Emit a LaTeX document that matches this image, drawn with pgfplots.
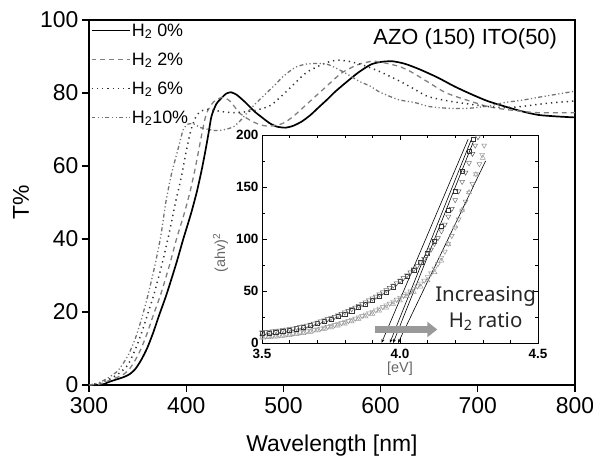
\documentclass[border=0pt]{standalone}
\usepackage{fontspec}
\setmainfont{Liberation Sans}
\newfontfamily\noto{Noto Sans}
\usepackage{pgfplots}
\pgfplotsset{compat=1.18}
\usetikzlibrary{arrows.meta}

\begin{document}
\begin{tikzpicture}
\path[use as bounding box] (-89bp,-71bp) rectangle (504bp,385bp);
\begin{axis}[name=main, at={(0,0)}, anchor=south west, scale only axis,
  width=486bp, height=365bp,
  xmin=300, xmax=800, ymin=0, ymax=100,
  xtick={300,400,...,800}, ytick={0,20,...,100},
  tick align=outside, xtick pos=bottom, ytick pos=left,
  major tick length=7bp,
  axis line style={line width=1.5pt},
  tick style={line width=1.1pt, black},
  ticklabel style={font=\fontsize{23}{27}\selectfont},
  xticklabel style={yshift=-2bp},
  /pgf/number format/assume math mode=true,
  xlabel={Wavelength [nm]}, ylabel={T\%},
  label style={font=\fontsize{23}{27}\selectfont},
  xlabel style={at={(axis description cs:0.5,-0.167)}, anchor=center},
  ylabel style={at={(axis description cs:-0.14,0.5)}, anchor=center},
  legend style={at={(axis description cs:0.003,0.995)}, anchor=north west,
    draw=none, fill=none, font=\fontsize{18}{20}\selectfont,
    row sep=12bp, inner sep=0pt, nodes={inner sep=1.5bp}},
  legend cell align=left,
  legend image code/.code={\draw[#1] (0bp,0bp) -- (38bp,0bp);},
]
\addplot[black, line width=1.7pt, smooth, tension=0.4] coordinates {
(300,0) (310,0) (316,0.3) (320,0.8) (328,1.5) (336,2.2) (342,3) (348,4.5) (354,7) (360,10.2)
(366,14.3) (372,19) (380,25) (390,33.5) (397,40) (405,47) (411,53) (416,59) (420,64.5)
(423,69) (426,73.6) (431,77) (437,78.8) (441,79.8) (446,80.2) (452,79.5) (461,77.4)
(470,75) (478,73.3) (486,71.7) (493,70.8) (502,70.5) (510,71) (519,72.2) (528,74)
(536,76) (545,78.2) (553,80.3) (564,82.8) (577,85.6) (590,87.8) (600,88.5) (612,88.7)
(625,88) (640,86.5) (659,84.2) (676,81.8) (693,79.7) (710,77.8) (728,76.3) (745,75)
(762,74) (780,73.6) (800,73.3)};
\addlegendentry{H\textsubscript{2} 0\%}
\addplot[black!50, line width=1.3pt, dash pattern=on 5pt off 4pt, smooth, tension=0.4] coordinates {
(300,0) (310,0.2) (316,0.7) (322,1.4) (330,2.2) (336,3) (342,4.5) (348,7) (354,10.2)
(360,14.3) (366,19) (374,25) (383,33) (390,40) (398,47) (404,53) (409,59) (413,64.5) (417,70)
(421,74.5) (428,77.5) (437,78.8) (445,77.8) (455,74.5) (466,72.5) (476,71.3) (485,70.9)
(495,71.3) (502,72) (512,74) (526,77.4) (543,81.5) (560,85.5) (577,87.8) (592,88.7)
(605,88.2) (620,87.2) (632,85.7) (650,82.8) (666,80.2) (680,78.8) (693,77.7) (710,76.3)
(728,75.5) (745,75) (762,74.6) (800,74.6)};
\addlegendentry{H\textsubscript{2} 2\%}
\addplot[black!80, line width=1.5pt, dash pattern=on 1.3pt off 4pt, smooth, tension=0.4] coordinates {
(300,0) (310,0.5) (320,1.5) (330,3) (340,5.5) (348,10) (355,15) (361,20) (367,25)
(375,33) (382,41) (389,50) (395,57) (400,64) (405,70) (410,73.5) (415,75) (422,75.5)
(430,75.2) (440,74.8) (450,74.6) (460,74.8) (470,75.2) (478,75.7) (488,76.8) (503,80.4)
(518,84.3) (526,86) (543,88.2) (555,89) (567,88.7) (580,87.8) (598,86) (620,83.2)
(635,81) (649,79) (670,77.8) (690,77) (710,76.3) (728,76) (745,76.3) (762,76.9)
(780,77.4) (800,77.8)};
\addlegendentry{H\textsubscript{2} 6\%}
\addplot[black!55, line width=1.3pt, dash pattern=on 4pt off 2.5pt on 1.2pt off 2.5pt on 1.2pt off 2.5pt, smooth, tension=0.4] coordinates {
(300,0) (310,0.6) (320,2) (330,4) (340,8) (348,13) (355,19) (361,25) (368,33) (374,41)
(379,50) (385,58) (391,64) (397,70) (402,71.5) (408,71.5) (415,70.5) (430,69.7)
(440,70) (449,70.8) (457,72.8) (464,75) (471,77) (478,78.8) (485,80.6) (492,82.4)
(500,84.6) (512,87) (523,87.9) (535,88.1) (546,87.8) (558,86.3) (568,84.8) (578,83.2)
(590,81.8) (598,80.4) (618,78.2) (635,77.4) (650,76.3) (670,75.8) (690,75.8) (710,76.4)
(728,77.4) (745,78) (762,78.8) (780,79.6) (800,80.5)};
\addlegendentry{H\textsubscript{2}10\%}
\node[font=\fontsize{22}{26}\selectfont] at (axis description cs:0.774,0.948) {AZO (150) ITO(50)};
\end{axis}

\begin{axis}[at={(173bp,42bp)}, anchor=south west, scale only axis,
  width=276bp, height=208bp,
  xmin=3.5, xmax=4.5, ymin=0, ymax=200,
  xtick={3.5,4.0,4.5}, ytick={0,50,100,150,200},
  minor x tick num=4, minor y tick num=1,
  tick align=inside, major tick length=5bp, minor tick length=3bp,
  axis background/.style={fill=white},
  axis line style={line width=0.8pt},
  tick style={line width=0.6pt, black},
  ticklabel style={font=\fontsize{13.5}{15}\selectfont\bfseries},
  xticklabel style={yshift=-3bp, /pgf/number format/.cd, fixed, fixed zerofill, precision=1},
  /pgf/number format/assume math mode=true,
  xlabel={\relax [eV]}, ylabel={(ahv)\textsuperscript{2}},
  label style={font=\fontsize{14.5}{16}\selectfont, text=black!60},
  xlabel style={at={(axis description cs:0.5,-0.125)}, anchor=center},
  ylabel style={at={(axis description cs:-0.15,0.433)}, anchor=center},
]
% lower band
\addplot[only marks, mark=triangle, mark size=2.8pt, black!40, mark options={line width=0.5pt}] coordinates {
(3.500,5.0) (3.525,5.5) (3.550,6.0) (3.575,6.7) (3.600,7.5) (3.625,8.5) (3.650,9.5)
(3.675,10.7) (3.700,12.0) (3.725,13.5) (3.750,15.0) (3.775,16.7) (3.800,18.5) (3.825,20.7)
(3.850,23.0) (3.875,25.5) (3.900,28.0) (3.925,31.0) (3.950,34.0) (3.975,37.5) (4.000,41.0)
(4.025,45.0) (4.050,49.0) (4.075,54.0) (4.100,60.0) (4.125,68) (4.150,79) (4.175,95)
(4.200,112) (4.225,128) (4.250,145) (4.275,162) (4.300,178)};
\addplot[only marks, mark=triangle, mark size=2.8pt, black!45, mark options={rotate=180, line width=0.5pt}] coordinates {
(3.5125,6.5) (3.5375,7.0) (3.5625,7.6) (3.5875,8.4) (3.6125,9.2) (3.6375,10.2)
(3.6625,11.3) (3.6875,12.6) (3.7125,14.0) (3.7375,15.6) (3.7625,17.3) (3.7875,19.2)
(3.8125,21.2) (3.8375,23.5) (3.8625,26.0) (3.8875,28.7) (3.9125,31.5) (3.9375,34.7)
(3.9625,38.0) (3.9875,41.7) (4.0125,45.5) (4.0375,49.7) (4.0625,54.5) (4.0875,60)
(4.1125,67) (4.1375,76) (4.1625,88) (4.1875,103) (4.2125,119) (4.2375,136) (4.2625,153)
(4.2875,172) (4.3050,190)};
\addplot[only marks, mark=triangle, mark size=2.8pt, black!35, mark options={rotate=180, line width=0.5pt}] coordinates {
(3.500,6.2) (3.525,6.75) (3.550,7.3) (3.575,8.0) (3.600,8.8) (3.625,9.7) (3.650,10.75)
(3.675,11.95) (3.700,13.3) (3.725,14.8) (3.750,16.45) (3.775,18.25) (3.800,20.2)
(3.825,22.35) (3.850,24.75) (3.875,27.35) (3.900,30.1) (3.925,33.1) (3.950,36.35)
(3.975,39.85) (4.000,43.6) (4.025,47.6) (4.050,52.1) (4.075,57.25) (4.100,63.5)
(4.125,71.5) (4.150,82) (4.175,95.5) (4.200,111) (4.225,127.5) (4.250,144.5)
(4.275,162.5) (4.2975,181)};
% upper band
\addplot[only marks, mark=square, mark size=2.1pt, black!80, mark options={line width=0.5pt}] coordinates {
(3.500,9.0) (3.525,9.7) (3.550,10.5) (3.575,11.5) (3.600,12.5) (3.625,13.7) (3.650,15.0)
(3.675,17.0) (3.700,19.0) (3.725,21.0) (3.750,23.0) (3.775,25.5) (3.800,28.0) (3.825,31.0)
(3.850,34.0) (3.875,37.5) (3.900,41.0) (3.925,45.0) (3.950,49.0) (3.975,54.0) (4.000,59.0)
(4.025,64.5) (4.050,70.0) (4.075,77.5) (4.100,86.0) (4.125,98) (4.150,112) (4.175,128)
(4.200,146) (4.225,165) (4.250,184) (4.265,196)};
\addplot[only marks, mark=triangle, mark size=2.8pt, black!65, mark options={rotate=180, line width=0.5pt}] coordinates {
(3.5125,10.5) (3.5375,11.2) (3.5625,12.0) (3.5875,13.0) (3.6125,14.0) (3.6375,15.3)
(3.6625,16.8) (3.6875,18.7) (3.7125,20.8) (3.7375,23.0) (3.7625,25.3) (3.7875,28.0)
(3.8125,31.0) (3.8375,34.2) (3.8625,37.5) (3.8875,41.0) (3.9125,44.8) (3.9375,48.8)
(3.9625,53.0) (3.9875,57.5) (4.0125,62.5) (4.0375,68.0) (4.0625,74.0) (4.0875,81.0)
(4.1125,90.0) (4.1375,101) (4.1625,114) (4.1875,129) (4.2125,146) (4.2375,164)
(4.2625,182) (4.2825,198)};
\addplot[only marks, mark=triangle, mark size=2.8pt, black!55, mark options={rotate=180, line width=0.5pt}] coordinates {
(3.500,10.2) (3.525,10.85) (3.550,11.6) (3.575,12.5) (3.600,13.5) (3.625,14.6) (3.650,16.0)
(3.675,17.7) (3.700,19.7) (3.725,21.9) (3.750,24.1) (3.775,26.6) (3.800,29.5) (3.825,32.6)
(3.850,35.8) (3.875,39.2) (3.900,42.9) (3.925,46.8) (3.950,50.9) (3.975,55.2) (4.000,60.0)
(4.025,65.2) (4.050,71.0) (4.075,77.5) (4.100,85.5) (4.125,95.5) (4.150,107.5) (4.175,121.5)
(4.200,137.5) (4.225,155) (4.250,173) (4.2725,190)};
\addplot[black, line width=0.6pt, -{Stealth[length=4bp,width=3bp]}] coordinates {(4.247,196) (3.933,0)};
\addplot[black, line width=0.6pt, -{Stealth[length=4bp,width=3bp]}] coordinates {(4.259,196) (3.963,0)};
\addplot[black, line width=0.6pt, -{Stealth[length=4bp,width=3bp]}] coordinates {(4.265,193) (3.975,0)};
\addplot[black, line width=0.6pt, -{Stealth[length=4bp,width=3bp]}] coordinates {(4.31,175) (3.993,0)};
\addplot[line width=7.5bp, color=black!40, -{Triangle[length=10bp,width=15bp]}] coordinates {(3.91,13) (4.135,13)};
\node[font=\noto\fontsize{20.5}{26}\selectfont, align=center, text=black!85] at (axis cs:4.31,33) {Increasing\\H\textsubscript{2} ratio};
\end{axis}
\end{tikzpicture}
\end{document}
